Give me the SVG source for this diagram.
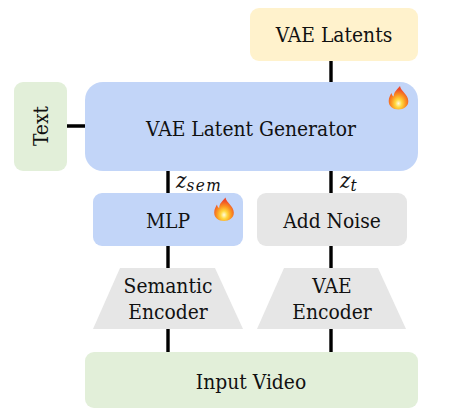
<svg xmlns="http://www.w3.org/2000/svg" width="471" height="408" viewBox="0 0 471 408">
<defs>
<radialGradient id="fl" cx="0.5" cy="0.74" r="0.6"><stop offset="0" stop-color="#fffbe0"/><stop offset="0.28" stop-color="#ffd93f"/><stop offset="0.62" stop-color="#fb9420"/><stop offset="1" stop-color="#ee4a2a"/></radialGradient>
<g id="flame"><path d="M1.500 -12.500 C2.500 -7 9.500 -4.500 9.800 2.500 C10 8 5 11 0 11 C-5.500 11 -9.800 8 -9.800 2.500 C-9.800 -1 -8 -3.500 -7 -5.500 C-6.700 -3.500 -6 -2.500 -4.800 -2 C-4.800 -6.500 -1.500 -9 1.500 -12.500 Z" fill="url(#fl)"/></g>
</defs>
<style>
text{font-family:"DejaVu Serif Condensed","DejaVu Serif",serif;font-stretch:condensed;font-size:20.8px;fill:#111;text-anchor:middle}
.m{font-family:"DejaVu Serif",serif;font-style:italic;font-size:22px;text-anchor:start}
.ms{font-size:17px;letter-spacing:1.5px}
.c{stroke:#000;stroke-width:3.4;fill:none}
</style>
<g id="connectors">
<path class="c" d="M331 61V82M67 126H85M168 170V193M331 170V193M168 246V268M331 246V268M168 329V352M331 329V352"/>
</g>
<g id="vae-latents"><rect x="250" y="8" width="168" height="53" rx="9" fill="#fff2cc"/><text x="334" y="42">VAE Latents</text></g>
<g id="text-node"><rect x="14" y="82" width="53" height="89" rx="9" fill="#e2efd9"/><text transform="translate(48 126) rotate(-90)">Text</text></g>
<g id="generator"><rect x="85" y="82" width="333" height="89" rx="18" fill="#c2d5f8"/><text x="251" y="136">VAE Latent Generator</text><use href="#flame" transform="translate(398.500 98.500)"/></g>
<g id="mlp"><rect x="93" y="193" width="150" height="53" rx="9" fill="#c2d5f8"/><text x="168" y="228">MLP</text><use href="#flame" transform="translate(224 210)"/></g>
<g id="add-noise"><rect x="257" y="193" width="150" height="53" rx="9" fill="#e6e6e6"/><text x="332" y="228">Add Noise</text></g>
<g id="semantic-encoder"><polygon points="120,268 215,268 243,329 93,329" fill="#e6e6e6"/><text x="168" y="293">Semantic</text><text x="168" y="319">Encoder</text></g>
<g id="vae-encoder"><polygon points="284,268 378,268 406,329 257,329" fill="#e6e6e6"/><text x="332" y="293">VAE</text><text x="332" y="319">Encoder</text></g>
<g id="input-video"><rect x="85" y="352" width="333" height="56" rx="9" fill="#e2efd9"/><text x="251" y="389">Input Video</text></g>
<g id="labels">
<text class="m" x="176" y="188">z<tspan class="ms" dy="3">sem</tspan></text>
<text class="m" x="340" y="188">z<tspan class="ms" dy="3">t</tspan></text>
</g>
</svg>
